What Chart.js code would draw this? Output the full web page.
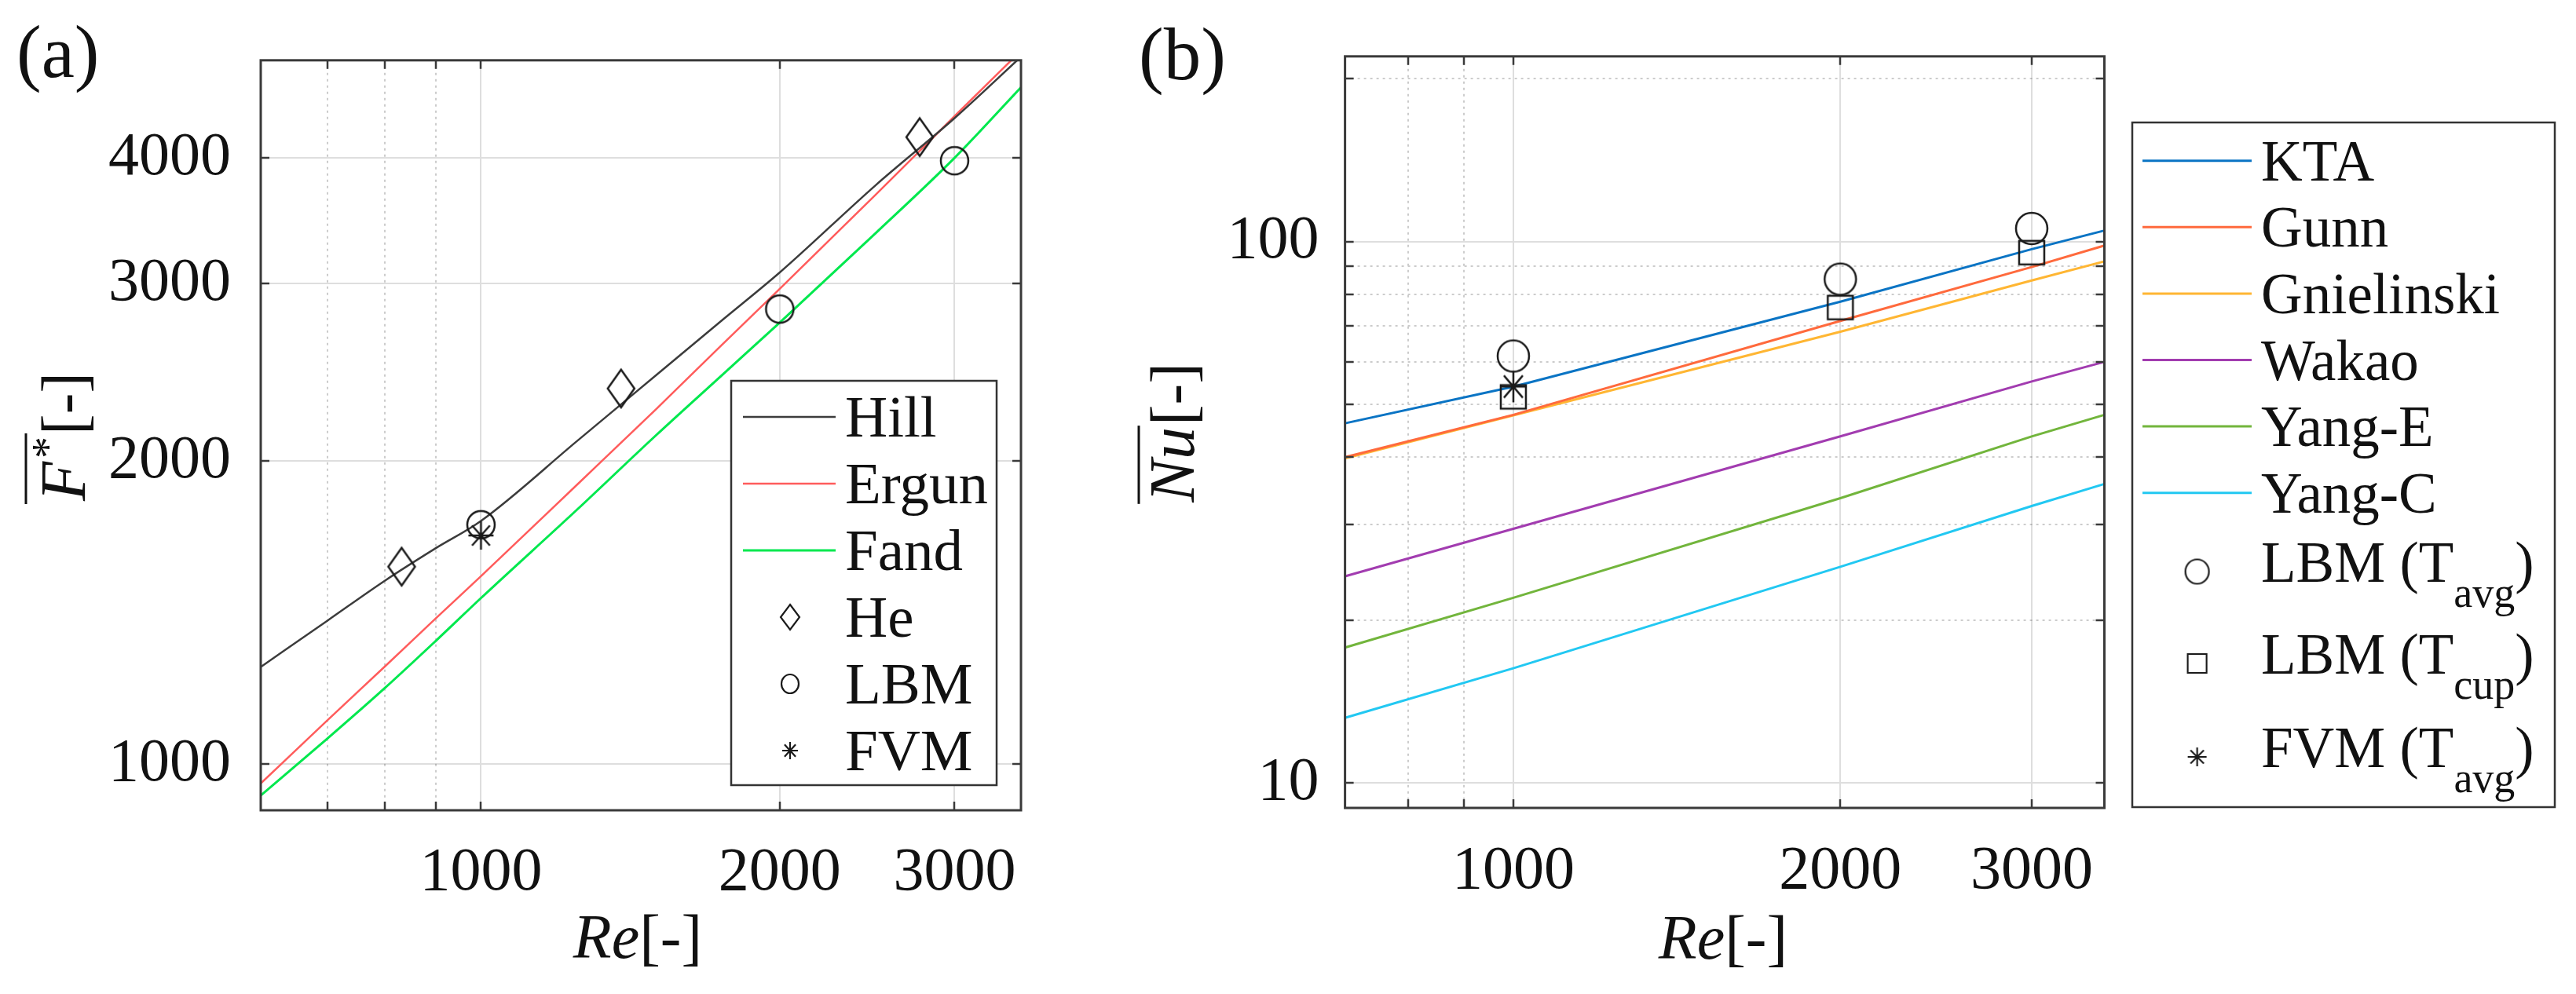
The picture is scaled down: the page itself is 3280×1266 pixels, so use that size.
<!DOCTYPE html>
<html><head><meta charset="utf-8">
<script src="https://cdn.jsdelivr.net/npm/chart.js@4.4.1/dist/chart.umd.min.js"></script>
<style>
html,body{margin:0;padding:0;background:#fff;}
#wrap{position:relative;width:3280px;height:1266px;overflow:hidden;background:#fff;}
canvas{position:absolute;top:0;}
</style>
</head><body>
<div id="wrap">
<canvas id="ca" width="1400" height="1266" style="left:0;width:1400px;height:1266px"></canvas>
<canvas id="cb" width="1880" height="1266" style="left:1400px;width:1880px;height:1266px"></canvas>
</div>
<script>
// ---------------- DATA: panel (a) ----------------
const reA   = [600, 700, 800, 900, 1000, 1250, 1500, 1750, 2000, 2500, 3000, 3500];
const hill  = [1249, 1388, 1521, 1638, 1744, 2094, 2432, 2760, 3078, 3760, 4380, 5040];
const ergun = [957, 1105, 1250, 1395, 1537, 1895, 2250, 2610, 2965, 3680, 4400, 5110];
const fand  = [931, 1060, 1190, 1325, 1462, 1790, 2120, 2435, 2745, 3370, 4000, 4700];
const reHe  = [832, 1384, 2767];
const fHe   = [1571, 2361, 4195];
const reLbmA = [1000, 2000, 3000];
const fLbm   = [1729, 2831, 3974];
const reFvmA = [1000];
const fFvm   = [1687];
const xTicksA = [1000, 2000, 3000];
const xMinorA = [700, 800, 900];
const yTicksA = [1000, 2000, 3000, 4000];

// ---------------- DATA: panel (b) ----------------
const reB        = [700, 1000, 2000, 3000, 3500];
const kta        = [46.2, 54.0, 77.5, 96.9, 104.9];
const gunn       = [40.0, 47.9, 71.4, 89.8, 98.4];
const gnielinski = [39.8, 47.8, 68.2, 84.8, 92.0];
const wakao      = [24.1, 29.5, 43.7, 55.2, 60.0];
const yangE      = [17.8, 22.0, 33.6, 43.7, 47.9];
const yangC      = [13.2, 16.3, 25.1, 32.5, 35.7];
const reMarkB    = [1000, 2000, 3000];
const nuLbmAvg   = [61.5, 85.3, 105.8];
const nuLbmCup   = [51.7, 75.6, 95.5];
const reFvmB     = [1000];
const nuFvm      = [54.0];
const xTicksB = [1000, 2000, 3000];
const xMinorB = [800, 900];
const yTicksB = [10, 100];
const yMinorB = [20, 30, 40, 50, 60, 70, 80, 90, 200];

// ---------------- helpers ----------------
const SERIF = "'Liberation Serif', 'Times New Roman', serif";
const pts = (xs, ys) => xs.map((x, i) => ({x: x, y: ys[i]}));

function markerCanvas(kind, w, h, lw) {
  const pad = Math.ceil(lw) + 2;
  const c = document.createElement('canvas');
  c.width = Math.ceil(w + 2 * pad); c.height = Math.ceil(h + 2 * pad);
  const g = c.getContext('2d');
  g.strokeStyle = '#1a1a1a'; g.lineWidth = lw;
  const cx = c.width / 2, cy = c.height / 2, rx = w / 2, ry = h / 2;
  g.beginPath();
  if (kind === 'diamond') { g.moveTo(cx, cy - ry); g.lineTo(cx + rx, cy); g.lineTo(cx, cy + ry); g.lineTo(cx - rx, cy); g.closePath(); }
  else if (kind === 'circle') { g.ellipse(cx, cy, rx, ry, 0, 0, 2 * Math.PI); }
  else if (kind === 'square') { g.rect(cx - rx, cy - ry, w, h); }
  else if (kind === 'asterisk') {
    const d = 0.7071;
    g.moveTo(cx, cy - ry); g.lineTo(cx, cy + ry);
    g.moveTo(cx - rx, cy); g.lineTo(cx + rx, cy);
    g.moveTo(cx - rx * d, cy - ry * d); g.lineTo(cx + rx * d, cy + ry * d);
    g.moveTo(cx + rx * d, cy - ry * d); g.lineTo(cx - rx * d, cy + ry * d);
  }
  g.stroke();
  return c;
}

function drawRuns(ctx, runs, x, y, align) {
  let w = 0;
  runs.forEach(r => { ctx.font = r.font; w += ctx.measureText(r.t).width + (r.gap || 0); });
  let cx = align === 'center' ? x - w / 2 : x;
  const spans = [];
  ctx.textAlign = 'left'; ctx.textBaseline = 'alphabetic';
  runs.forEach(r => {
    ctx.font = r.font;
    cx += (r.gap || 0);
    const tw = ctx.measureText(r.t).width;
    ctx.fillText(r.t, cx, y + (r.dy || 0));
    spans.push([cx, cx + tw]);
    cx += tw;
  });
  return spans;
}

// Matlab-like axes: grid (under data) and box + inward ticks (over data)
const matlabAxes = {
  id: 'matlabAxes',
  beforeDatasetsDraw(chart, args, o) {
    const {ctx, chartArea: a, scales: {x, y}} = chart;
    ctx.save();
    ctx.beginPath(); ctx.rect(a.left, a.top, a.right - a.left, a.bottom - a.top); ctx.clip();
    ctx.lineWidth = 2;
    ctx.strokeStyle = 'rgba(0,0,0,0.2)'; ctx.setLineDash([3, 5]);
    ctx.beginPath();
    o.xMinor.forEach(v => { const p = Math.round(x.getPixelForValue(v)); ctx.moveTo(p, a.top); ctx.lineTo(p, a.bottom); });
    o.yMinor.forEach(v => { const p = Math.round(y.getPixelForValue(v)); ctx.moveTo(a.left, p); ctx.lineTo(a.right, p); });
    ctx.stroke();
    ctx.setLineDash([]);
    ctx.strokeStyle = 'rgba(0,0,0,0.13)';
    ctx.beginPath();
    o.xMajor.forEach(v => { const p = Math.round(x.getPixelForValue(v)); ctx.moveTo(p, a.top); ctx.lineTo(p, a.bottom); });
    o.yMajor.forEach(v => { const p = Math.round(y.getPixelForValue(v)); ctx.moveTo(a.left, p); ctx.lineTo(a.right, p); });
    ctx.stroke();
    ctx.restore();
  },
  afterDatasetsDraw(chart, args, o) {
    const {ctx, chartArea: a, scales: {x, y}} = chart;
    ctx.save();
    ctx.strokeStyle = '#3a3a3a'; ctx.lineWidth = 2.5;
    ctx.beginPath();
    const T = 11;
    [...o.xMajor, ...o.xMinor].forEach(v => { const p = Math.round(x.getPixelForValue(v)); ctx.moveTo(p, a.bottom); ctx.lineTo(p, a.bottom - T); ctx.moveTo(p, a.top); ctx.lineTo(p, a.top + T); });
    [...o.yMajor, ...o.yMinor].forEach(v => { const p = Math.round(y.getPixelForValue(v)); ctx.moveTo(a.left, p); ctx.lineTo(a.left + T, p); ctx.moveTo(a.right, p); ctx.lineTo(a.right - T, p); });
    ctx.stroke();
    ctx.lineWidth = 3;
    ctx.strokeRect(a.left, a.top, a.right - a.left, a.bottom - a.top);
    ctx.restore();
  }
};

function logAxis(min, max, major, minor, isX, fitSize, pad) {
  const all = [...major, ...minor].filter(v => v >= min && v <= max).sort((p, q) => p - q);
  return {
    type: 'logarithmic', min: min, max: max, position: isX ? 'bottom' : 'left',
    grid: {display: false}, border: {display: false},
    afterFit: s => { if (isX) s.height = fitSize; else s.width = fitSize; },
    afterBuildTicks: s => { s.ticks = all.map(v => ({value: v})); },
    ticks: {autoSkip: false, maxRotation: 0, minRotation: 0, padding: pad, color: '#111',
      font: {family: SERIF, size: 78},
      callback: v => major.includes(v) ? String(v) : ''}
  };
}

// ---------------- Chart (a) ----------------
const mkA = {
  diamond: markerCanvas('diamond', 34, 48, 2.5),
  circle: markerCanvas('circle', 35, 35, 2.5),
  ast: markerCanvas('asterisk', 32, 36, 2.5),
  lDiamond: markerCanvas('diamond', 24, 32, 2.2),
  lCircle: markerCanvas('circle', 22, 24, 2.2),
  lAst: markerCanvas('asterisk', 20, 22, 2.2)
};

const decorA = {
  id: 'decorA',
  afterDraw(chart) {
    const ctx = chart.ctx;
    ctx.save();
    ctx.fillStyle = '#111';
    drawRuns(ctx, [{t: '(a)', font: `95px ${SERIF}`}], 21, 98, 'left');
    drawRuns(ctx, [{t: 'Re', font: `italic 80px ${SERIF}`}, {t: '[-]', font: `80px ${SERIF}`}], 812, 1220, 'center');
    ctx.save();
    ctx.translate(108, 556); ctx.rotate(-Math.PI / 2);
    const sp = drawRuns(ctx, [{t: 'F', font: `italic 82px ${SERIF}`}, {t: '*', font: `56px ${SERIF}`, dy: -28, gap: 4}, {t: '[-]', font: `80px ${SERIF}`, gap: 2}], 0, 0, 'center');
    ctx.strokeStyle = '#111'; ctx.lineWidth = 3;
    ctx.beginPath(); ctx.moveTo(sp[0][0] - 4, -75); ctx.lineTo(sp[1][1] + 4, -75); ctx.stroke();
    ctx.restore();
    const L = {x: 931, y: 485, w: 338, h: 515};
    ctx.fillStyle = '#fff'; ctx.fillRect(L.x, L.y, L.w, L.h);
    ctx.strokeStyle = '#333'; ctx.lineWidth = 2.5; ctx.strokeRect(L.x, L.y, L.w, L.h);
    const items = chart.data.datasets.filter(d => d.legendKind).sort((p, q) => p.legendOrder - q.legendOrder);
    items.forEach((d, i) => {
      const yy = 531 + i * 85;
      if (d.legendKind === 'line') {
        ctx.strokeStyle = d.borderColor; ctx.lineWidth = d.borderWidth;
        ctx.beginPath(); ctx.moveTo(946, yy); ctx.lineTo(1064, yy); ctx.stroke();
      } else {
        const m = d.legendMarker;
        ctx.drawImage(m, 1006 - m.width / 2, yy - m.height / 2);
      }
      ctx.fillStyle = '#111';
      drawRuns(ctx, [{t: d.label, font: `75px ${SERIF}`}], 1076, yy + 25, 'left');
    });
    ctx.restore();
  }
};

new Chart(document.getElementById('ca'), {
  type: 'scatter',
  data: {
    datasets: [
      {label: 'He', data: pts(reHe, fHe), pointStyle: mkA.diamond, pointRadius: 10, showLine: false, order: 0, legendKind: 'marker', legendMarker: mkA.lDiamond, legendOrder: 3},
      {label: 'LBM', data: pts(reLbmA, fLbm), pointStyle: mkA.circle, pointRadius: 10, showLine: false, order: 0, legendKind: 'marker', legendMarker: mkA.lCircle, legendOrder: 4},
      {label: 'FVM', data: pts(reFvmA, fFvm), pointStyle: mkA.ast, pointRadius: 10, showLine: false, order: 0, legendKind: 'marker', legendMarker: mkA.lAst, legendOrder: 5},
      {label: 'Hill', data: pts(reA, hill), showLine: true, pointRadius: 0, borderColor: '#3c3c3c', borderWidth: 2.5, cubicInterpolationMode: 'monotone', order: 1, legendKind: 'line', legendOrder: 0},
      {label: 'Ergun', data: pts(reA, ergun), showLine: true, pointRadius: 0, borderColor: '#ff5c5c', borderWidth: 2.5, cubicInterpolationMode: 'monotone', order: 1, legendKind: 'line', legendOrder: 1},
      {label: 'Fand', data: pts(reA, fand), showLine: true, pointRadius: 0, borderColor: '#00e84e', borderWidth: 3, cubicInterpolationMode: 'monotone', order: 1, legendKind: 'line', legendOrder: 2}
    ]
  },
  options: {
    responsive: false, animation: false, devicePixelRatio: 1,
    layout: {padding: {left: 12, right: 100, top: 62, bottom: 84}},
    plugins: {legend: {display: false}, tooltip: {enabled: false},
      matlabAxes: {xMajor: xTicksA, xMinor: xMinorA, yMajor: yTicksA, yMinor: []}},
    scales: {
      x: logAxis(600, 3500, xTicksA, xMinorA, true, 150, 26),
      y: logAxis(900, 5000, yTicksA, [], false, 320, 30)
    }
  },
  plugins: [matlabAxes, decorA]
});

// ---------------- Chart (b) ----------------
const mkB = {
  circle: markerCanvas('circle', 40, 40, 2.5),
  square: markerCanvas('square', 32, 30, 2.5),
  ast: markerCanvas('asterisk', 34, 40, 2.5),
  lCircle: markerCanvas('circle', 30, 31, 2.2),
  lSquare: markerCanvas('square', 24, 24, 2.2),
  lAst: markerCanvas('asterisk', 24, 24, 2.2)
};

const decorB = {
  id: 'decorB',
  afterDraw(chart) {
    const ctx = chart.ctx;
    ctx.save();
    ctx.fillStyle = '#111';
    drawRuns(ctx, [{t: '(b)', font: `95px ${SERIF}`}], 50, 101, 'left');
    drawRuns(ctx, [{t: 'Re', font: `italic 80px ${SERIF}`}, {t: '[-]', font: `80px ${SERIF}`}], 794, 1221, 'center');
    ctx.save();
    ctx.translate(120, 551); ctx.rotate(-Math.PI / 2);
    const sp = drawRuns(ctx, [{t: 'Nu', font: `italic 82px ${SERIF}`}, {t: '[-]', font: `80px ${SERIF}`, gap: 2}], 0, 0, 'center');
    ctx.strokeStyle = '#111'; ctx.lineWidth = 3;
    ctx.beginPath(); ctx.moveTo(sp[0][0] - 2, -70); ctx.lineTo(sp[0][1] + 2, -70); ctx.stroke();
    ctx.restore();
    const L = {x: 1315, y: 156, w: 538, h: 872};
    ctx.fillStyle = '#fff'; ctx.fillRect(L.x, L.y, L.w, L.h);
    ctx.strokeStyle = '#333'; ctx.lineWidth = 2.5; ctx.strokeRect(L.x, L.y, L.w, L.h);
    const items = chart.data.datasets.filter(d => d.legendKind).sort((p, q) => p.legendOrder - q.legendOrder);
    const markerRows = [728, 845, 964];
    let mi = 0;
    items.forEach((d, i) => {
      ctx.fillStyle = '#111';
      if (d.legendKind === 'line') {
        const yy = 204.7 + i * 84.6;
        ctx.strokeStyle = d.borderColor; ctx.lineWidth = d.borderWidth;
        ctx.beginPath(); ctx.moveTo(1328, yy); ctx.lineTo(1467, yy); ctx.stroke();
        drawRuns(ctx, [{t: d.label, font: `73px ${SERIF}`}], 1479, yy + 25, 'left');
      } else {
        const yy = markerRows[mi++];
        const m = d.legendMarker;
        ctx.drawImage(m, 1397.6 - m.width / 2, yy - m.height / 2);
        drawRuns(ctx, [{t: d.legendMain, font: `73px ${SERIF}`}, {t: d.legendSub, font: `54px ${SERIF}`, dy: 32}, {t: ')', font: `73px ${SERIF}`}], 1479, yy + 13, 'left');
      }
    });
    ctx.restore();
  }
};

const lineB = (label, ys, color, ord) => ({label: label, data: pts(reB, ys), showLine: true, pointRadius: 0, borderColor: color, borderWidth: 3, tension: 0, order: 1, legendKind: 'line', legendOrder: ord});

new Chart(document.getElementById('cb'), {
  type: 'scatter',
  data: {
    datasets: [
      {label: 'LBM (Tavg)', legendMain: 'LBM (T', legendSub: 'avg', data: pts(reMarkB, nuLbmAvg), pointStyle: mkB.circle, pointRadius: 10, showLine: false, order: 0, legendKind: 'marker', legendMarker: mkB.lCircle, legendOrder: 6},
      {label: 'LBM (Tcup)', legendMain: 'LBM (T', legendSub: 'cup', data: pts(reMarkB, nuLbmCup), pointStyle: mkB.square, pointRadius: 10, showLine: false, order: 0, legendKind: 'marker', legendMarker: mkB.lSquare, legendOrder: 7},
      {label: 'FVM (Tavg)', legendMain: 'FVM (T', legendSub: 'avg', data: pts(reFvmB, nuFvm), pointStyle: mkB.ast, pointRadius: 10, showLine: false, order: 0, legendKind: 'marker', legendMarker: mkB.lAst, legendOrder: 8},
      lineB('KTA', kta, '#0a74c4', 0),
      lineB('Gunn', gunn, '#ff6a3d', 1),
      lineB('Gnielinski', gnielinski, '#ffb633', 2),
      lineB('Wakao', wakao, '#a23cb0', 3),
      lineB('Yang-E', yangE, '#72b53c', 4),
      lineB('Yang-C', yangC, '#22c8f2', 5)
    ]
  },
  options: {
    responsive: false, animation: false, devicePixelRatio: 1,
    layout: {padding: {left: 12.6, right: 600.5, top: 63, bottom: 87}},
    plugins: {legend: {display: false}, tooltip: {enabled: false},
      matlabAxes: {xMajor: xTicksB, xMinor: xMinorB, yMajor: yTicksB, yMinor: yMinorB}},
    scales: {
      x: logAxis(700, 3500, xTicksB, xMinorB, true, 150, 27),
      y: logAxis(9, 220, yTicksB, yMinorB, false, 300, 25)
    }
  },
  plugins: [matlabAxes, decorB]
});
</script>
</body></html>
